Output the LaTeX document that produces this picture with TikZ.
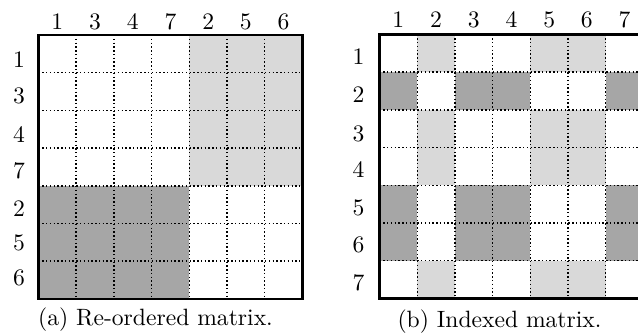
\documentclass[tikz,border=0pt]{standalone}
\usepackage{tikz}
\definecolor{lightcell}{gray}{0.85}
\definecolor{darkcell}{gray}{0.65}
\tikzset{
  framebox/.style={draw=black, line width=1pt},
  gridline/.style={draw=black, line width=0.6pt, dash pattern=on 0.6pt off 1.0pt},
  lbl/.style={inner sep=0pt},
  captext/.style={inner sep=0pt, anchor=base}
}
\begin{document}
\begin{tikzpicture}[x=0.4237pt,y=-0.4237pt]
\useasboundingbox (0,0) rectangle (638,335);
% ---------- left: re-ordered matrix ----------
\fill[lightcell] (189.3,35) rectangle (302.4,185.8);
\fill[darkcell] (38.5,185.8) rectangle (189.3,298.9);
\foreach \k in {1,...,6} {
  \draw[gridline] ({38.5+\k*37.7},35) -- ({38.5+\k*37.7},298.9);
  \draw[gridline] (38.5,{35+\k*37.7}) -- (302.4,{35+\k*37.7});
}
\draw[framebox] (38.5,35) rectangle (302.4,298.9);
\foreach \t [count=\i] in {1,3,4,7,2,5,6}
  \node[lbl] (lc\i) at ({38.5+(\i-0.5)*37.7},22) {\t};
\foreach \t/\yy [count=\i] in {1/59.5,3/95.5,4/135,7/171,2/208.5,5/243,6/277.5}
  \node[lbl] (lr\i) at (19,\yy) {\t};
\node[captext] (capa) at (155.5,325) {(a) Re-ordered matrix.};
% ---------- right: indexed matrix ----------
\foreach \r in {1,3,4,7} \foreach \c in {2,5,6}
  \fill[lightcell] ({379.5+(\c-1)*37.7},{34.5+(\r-1)*37.7}) rectangle +(37.7,37.7);
\foreach \r in {2,5,6} \foreach \c in {1,3,4,7}
  \fill[darkcell] ({379.5+(\c-1)*37.7},{34.5+(\r-1)*37.7}) rectangle +(37.7,37.7);
\foreach \k in {1,...,6} {
  \draw[gridline] ({379.5+\k*37.7},34.5) -- ({379.5+\k*37.7},298.4);
  \draw[gridline] (379.5,{34.5+\k*37.7}) -- (643.4,{34.5+\k*37.7});
}
\draw[framebox] (379.5,34.5) rectangle (643.4,298.4);
\foreach \i in {1,...,7}
  \node[lbl] (rc\i) at ({379.5+(\i-0.5)*37.7},19.5) {\i};
\foreach \yy [count=\i] in {56.7,95,133.5,170,207.5,244.5,282.5}
  \node[lbl] (rr\i) at (358.5,\yy) {\i};
\node[captext] (capb) at (499.5,327.5) {(b) Indexed matrix.};
\end{tikzpicture}
\end{document}
